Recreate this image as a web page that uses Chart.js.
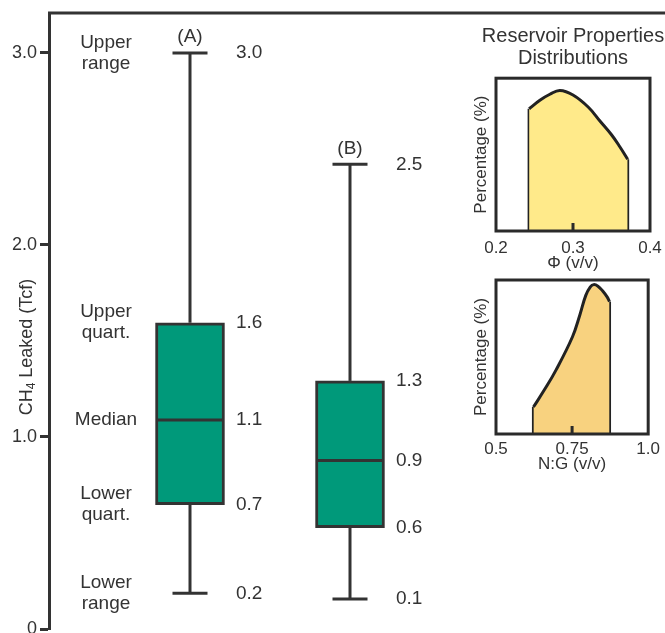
<!DOCTYPE html>
<html>
<head>
<meta charset="utf-8">
<script src="https://cdn.jsdelivr.net/npm/chart.js@4.4.1/dist/chart.umd.min.js"></script>
<style>
  html, body { margin: 0; padding: 0; background: #fff; }
  #wrap { position: relative; width: 665px; height: 633px; overflow: hidden; }
  canvas { position: absolute; }
</style>
</head>
<body>
<div id="wrap">
  <canvas id="main" width="665" height="633" style="left:0;top:0"></canvas>
  <canvas id="phi" width="266" height="255" style="left:440px;top:20px"></canvas>
  <canvas id="ng" width="225" height="210" style="left:440px;top:270px"></canvas>
</div>
<script>
// Box plot values (Tcf)
const groups = ["(A)", "(B)"];
const xPos = [1, 2];
const minV = [0.186, 0.156];
const q1V = [0.647, 0.528];
const medV = [1.089, 0.877];
const q3V = [1.595, 1.292];
const maxV = [3.0, 2.42];

// printed values next to each box: max, q3, median, q1, min
const labelsA = ["3.0", "1.6", "1.1", "0.7", "0.2"];
const labelsB = ["2.5", "1.3", "0.9", "0.6", "0.1"];
const statNames = [["Upper", "range"], ["Upper", "quart."], ["Median"], ["Lower", "quart."], ["Lower", "range"]];

const yTicks = [0, 1, 2, 3];
const yTickLabels = ["0", "1.0", "2.0", "3.0"];

// Reservoir property distributions
const phiX = [0.243, 0.257, 0.270, 0.283, 0.300, 0.320, 0.335, 0.350, 0.361, 0.371];
const phiY = [80, 85.6, 89.5, 92, 89, 81, 72, 63, 55, 47];
const phiTicks = [0.2, 0.3, 0.4];
const phiTickLabels = ["0.2", "0.3", "0.4"];

const ngX = [0.623, 0.660, 0.697, 0.751, 0.775, 0.795, 0.810, 0.821, 0.835, 0.850, 0.865, 0.873];
const ngY = [17.5, 29, 41.5, 63, 77, 90, 95.5, 97, 96, 93, 89, 86];
const ngTicks = [0.5, 0.75, 1.0];
const ngTickLabels = ["0.5", "0.75", "1.0"];

const ink = "#333333";
const boxGreen = "#00997a";
const fam = "'Liberation Sans', Arial, sans-serif";
Chart.defaults.font.family = fam;
Chart.defaults.color = ink;
Chart.defaults.animation = false;

// whiskers, caps, medians and the text around the boxes
const boxParts = {
  id: "boxParts",
  afterDatasetsDraw(chart) {
    const { ctx, scales: { x, y }, chartArea } = chart;
    const line = (x1, y1, x2, y2) => {
      ctx.beginPath(); ctx.moveTo(x1, y1); ctx.lineTo(x2, y2); ctx.stroke();
    };
    ctx.save();
    ctx.strokeStyle = ink;
    ctx.lineWidth = 3;
    line(chartArea.left - 1, chartArea.top, chartArea.right, chartArea.top);

    groups.forEach((g, i) => {
      const cx = x.getPixelForValue(xPos[i]);
      const yMin = y.getPixelForValue(minV[i]);
      const yQ1 = y.getPixelForValue(q1V[i]);
      const yMed = y.getPixelForValue(medV[i]);
      const yQ3 = y.getPixelForValue(q3V[i]);
      const yMax = y.getPixelForValue(maxV[i]);
      line(cx, yQ3, cx, yMax);
      line(cx, yQ1, cx, yMin);
      line(cx - 17.5, yMax, cx + 17.5, yMax);
      line(cx - 17.5, yMin, cx + 17.5, yMin);
      line(cx - 33, yMed, cx + 33, yMed);

      ctx.fillStyle = ink;
      ctx.font = "19px " + fam;
      ctx.textAlign = "center";
      ctx.textBaseline = "middle";
      ctx.fillText(g, cx, yMax - 16);

      const vals = i === 0 ? labelsA : labelsB;
      const ys = [yMax, yQ3, yMed, yQ1, yMin];
      ctx.textAlign = "left";
      vals.forEach((t, k) => ctx.fillText(t, cx + 46, ys[k]));

      if (i === 0) {
        ctx.textAlign = "center";
        statNames.forEach((lines, k) => {
          const y0 = ys[k] - (lines.length - 1) * 10.5;
          lines.forEach((t, j) => ctx.fillText(t, cx - 84, y0 + j * 21));
        });
      }
    });

    // y axis title with subscript
    ctx.translate(27, 347);
    ctx.rotate(-Math.PI / 2);
    ctx.textBaseline = "middle";
    ctx.textAlign = "left";
    const big = "18px " + fam;
    const small = "12px " + fam;
    ctx.font = big;
    const w1 = ctx.measureText("CH").width;
    const w3 = ctx.measureText(" Leaked (Tcf)").width;
    ctx.font = small;
    const w2 = ctx.measureText("4").width;
    let px = -(w1 + w2 + w3) / 2;
    ctx.font = big;
    ctx.fillText("CH", px, 0);
    px += w1;
    ctx.font = small;
    ctx.fillText("4", px, 5);
    px += w2;
    ctx.font = big;
    ctx.fillText(" Leaked (Tcf)", px, 0);
    ctx.restore();
  }
};

new Chart(document.getElementById("main"), {
  type: "bar",
  data: {
    datasets: [{
      data: groups.map((g, i) => ({ x: xPos[i], y: [q1V[i], q3V[i]] })),
      backgroundColor: boxGreen,
      borderColor: ink,
      borderWidth: 3,
      borderSkipped: false,
      barThickness: 69
    }]
  },
  options: {
    responsive: false,
    layout: { padding: { top: 13, bottom: 4, left: 0, right: 0 } },
    plugins: { legend: { display: false }, tooltip: { enabled: false } },
    scales: {
      x: { type: "linear", min: 0.11875, max: 3.96875, offset: false, display: false },
      y: {
        min: 0,
        max: 3.208,
        afterBuildTicks: (s) => { s.ticks = yTicks.map(v => ({ value: v })); },
        afterFit: (s) => { s.width = 49; s.paddingTop = 0; s.paddingBottom = 0; },
        ticks: {
          font: { size: 18 },
          color: ink,
          padding: 3,
          callback: (v, idx) => yTickLabels[idx]
        },
        grid: { drawOnChartArea: false, tickLength: 9, tickColor: ink, tickWidth: 3 },
        border: { color: ink, width: 3 }
      }
    }
  },
  plugins: [boxParts]
});

// frame and the small mid tick of the small charts
const insetFrame = {
  id: "insetFrame",
  afterDatasetsDraw(chart, args, opts) {
    const { ctx, chartArea: a, scales: { x } } = chart;
    ctx.save();
    ctx.strokeStyle = "#2a2a2a";
    ctx.lineWidth = 3;
    ctx.strokeRect(a.left, a.top, a.right - a.left, a.bottom - a.top);
    const mx = x.getPixelForValue(opts.midTick);
    ctx.beginPath(); ctx.moveTo(mx, a.bottom); ctx.lineTo(mx, a.bottom - 8); ctx.stroke();
    ctx.restore();
  }
};

function makeInset(id, xs, ys, ticks, tickLabels, fillColor, xTitle, extra) {
  const pts = xs.map((v, i) => ({ x: v, y: ys[i] }));
  const n = xs.length - 1;
  const edge = (k) => ({
    data: [{ x: xs[k], y: 0 }, { x: xs[k], y: ys[k] }],
    borderColor: "#222", borderWidth: 3, pointRadius: 0, fill: false
  });
  const scales = {
    x: {
      type: "linear",
      min: ticks[0],
      max: ticks[2],
      afterBuildTicks: (s) => { s.ticks = ticks.map(v => ({ value: v })); },
      afterFit: (s) => { s.height = extra.xHeight; },
      ticks: { font: { size: 17 }, color: ink, padding: extra.tickPad, maxRotation: 0,
               callback: (v, idx) => tickLabels[idx] },
      grid: { display: false, drawTicks: false },
      border: { display: false },
      title: { display: true, text: xTitle, font: { size: 17 }, color: ink,
               padding: { top: 0, bottom: extra.titlePad } }
    },
    y: {
      min: 0,
      max: 100,
      afterFit: (s) => { s.width = 56; },
      ticks: { display: false },
      grid: { display: false, drawTicks: false },
      border: { display: false },
      title: { display: true, text: "Percentage (%)", font: { size: 17 }, color: ink,
               padding: { top: 31, bottom: 0 } }
    }
  };
  if (extra.spacer) {
    // empty right axis so the title centres over the plot box
    scales.ySpacer = {
      position: "right",
      afterFit: (s) => { s.width = extra.spacer; },
      ticks: { display: false },
      grid: { display: false, drawTicks: false },
      border: { display: false }
    };
  }
  return new Chart(document.getElementById(id), {
    type: "line",
    data: {
      datasets: [
        { data: pts, borderColor: "#222", borderWidth: 3, backgroundColor: fillColor,
          fill: "origin", tension: 0.4, pointRadius: 0 },
        edge(0),
        edge(n)
      ]
    },
    options: {
      responsive: false,
      layout: { padding: { top: extra.padTop, right: extra.padRight, left: 0, bottom: 0 } },
      plugins: {
        legend: { display: false },
        tooltip: { enabled: false },
        title: extra.title,
        insetFrame: { midTick: ticks[1] }
      },
      scales
    },
    plugins: [insetFrame]
  });
}

makeInset("phi", phiX, phiY, phiTicks, phiTickLabels, "#ffea8a", "\u03a6 (v/v)", {
  padTop: 0, padRight: 0, spacer: 56, xHeight: 44, tickPad: 7, titlePad: 1,
  title: {
    display: true,
    text: ["Reservoir Properties", "Distributions"],
    font: { size: 20, weight: "normal", lineHeight: 1.08 },
    color: ink,
    padding: { top: 6, bottom: 9 }
  }
});

makeInset("ng", ngX, ngY, ngTicks, ngTickLabels, "#f8d27f", "N:G (v/v)", {
  padTop: 10, padRight: 15, xHeight: 46, tickPad: 5, titlePad: 5,
  title: { display: false }
});
</script>
</body>
</html>
